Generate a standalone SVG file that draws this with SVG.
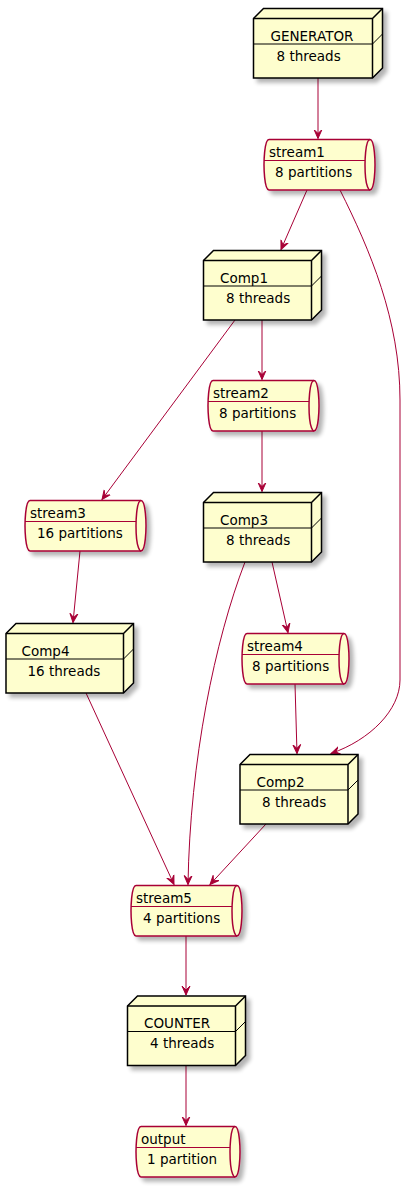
<svg xmlns="http://www.w3.org/2000/svg" width="413" height="1188" viewBox="0 0 413 1188">
<defs>
<filter id="sh" x="-20%" y="-20%" width="150%" height="150%">
<feGaussianBlur in="SourceAlpha" stdDeviation="2"/>
<feOffset dx="4" dy="4" result="b"/>
<feComponentTransfer><feFuncA type="linear" slope="0.3"/></feComponentTransfer>
<feMerge><feMergeNode/><feMergeNode in="SourceGraphic"/></feMerge>
</filter>
<marker id="ah" viewBox="0 0 10 10" refX="9" refY="5" markerWidth="10" markerHeight="10" markerUnits="userSpaceOnUse" orient="auto">
<path d="M0,1 L9,5 L0,9 L4,5 Z" fill="#A80036" stroke="#A80036" stroke-width="1"/>
</marker>
</defs>
<style>
.nb{fill:#FEFECE;stroke:#000000;stroke-width:1.5}
.nl{fill:none;stroke:#000000;stroke-width:1.5}
.nd{fill:none;stroke:#000000;stroke-width:1}
.cb{fill:#FEFECE;stroke:#A80036;stroke-width:1.5}
.cl{fill:none;stroke:#A80036;stroke-width:1.5}
.cd{fill:none;stroke:#A80036;stroke-width:1}
text{font-family:"DejaVu Sans",sans-serif;font-size:13.5px;fill:#000000}
.e{fill:none;stroke:#A80036;stroke-width:1;marker-end:url(#ah)}
</style>
<rect width="413" height="1188" fill="#FFFFFF"/>

<g id="connectors">
<path class="e" d="M318,78 L318,138.5"/>
<path class="e" d="M307,190 L281,249.5"/>
<path class="e" d="M340,190 C370,250 400,320 400,400 L400,680 C400,710 370,740 331,753.5"/>
<path class="e" d="M262,320 L262,379.5"/>
<path class="e" d="M235,320 L102,499.5"/>
<path class="e" d="M262,431 L262,491.5"/>
<path class="e" d="M80,551 L73,622.5"/>
<path class="e" d="M272,562 L288,632.5"/>
<path class="e" d="M245,562 C215,640 190,760 188,884.5"/>
<path class="e" d="M86,693 L174,884.5"/>
<path class="e" d="M295,684 L297,753.5"/>
<path class="e" d="M266,824 L210,884.5"/>
<path class="e" d="M186,936 L186,995"/>
<path class="e" d="M186,1066 L186,1125.5"/>
</g>

<g id="GENERATOR">
<path class="nb" filter="url(#sh)" d="M253.5,18.5 L263.5,8.5 L382.5,8.5 L382.5,68 L372.5,78 L253.5,78 Z"/>
<path class="nl" d="M253.5,18.5 L372.5,18.5 L382.5,8.5 M372.5,18.5 L372.5,78"/>
<path class="nd" d="M253.5,44 L372.5,44 L382.5,34"/>
<text x="270.5" y="40.5">GENERATOR</text>
<text x="276.5" y="60.5">8 threads</text>
</g>

<g id="stream1">
<path class="cb" filter="url(#sh)" d="M269,139.5 L370,139.5 C375,139.5 375,164.75 375,164.75 C375,164.75 375,190 370,190 L269,190 C264,190 264,164.75 264,164.75 C264,164.75 264,139.5 269,139.5 Z"/>
<path class="cl" d="M370,139.5 C365,139.5 365,164.75 365,164.75 C365,190 370,190 370,190"/>
<path class="cd" d="M264,160.5 L365,160.5"/>
<text x="269" y="156.5">stream1</text>
<text x="275" y="176.5">8 partitions</text>
</g>

<g id="Comp1">
<path class="nb" filter="url(#sh)" d="M203.5,260.5 L213.5,250.5 L321.5,250.5 L321.5,310 L311.5,320 L203.5,320 Z"/>
<path class="nl" d="M203.5,260.5 L311.5,260.5 L321.5,250.5 M311.5,260.5 L311.5,320"/>
<path class="nd" d="M203.5,286 L311.5,286 L321.5,276"/>
<text x="220" y="282.5">Comp1</text>
<text x="226" y="302.5">8 threads</text>
</g>

<g id="stream2">
<path class="cb" filter="url(#sh)" d="M213,380.5 L314,380.5 C319,380.5 319,405.75 319,405.75 C319,405.75 319,431 314,431 L213,431 C208,431 208,405.75 208,405.75 C208,405.75 208,380.5 213,380.5 Z"/>
<path class="cl" d="M314,380.5 C309,380.5 309,405.75 309,405.75 C309,431 314,431 314,431"/>
<path class="cd" d="M208,401.5 L309,401.5"/>
<text x="213" y="397.5">stream2</text>
<text x="219" y="417.5">8 partitions</text>
</g>

<g id="Comp3">
<path class="nb" filter="url(#sh)" d="M203.5,502.5 L213.5,492.5 L321.5,492.5 L321.5,552 L311.5,562 L203.5,562 Z"/>
<path class="nl" d="M203.5,502.5 L311.5,502.5 L321.5,492.5 M311.5,502.5 L311.5,562"/>
<path class="nd" d="M203.5,528 L311.5,528 L321.5,518"/>
<text x="220" y="524.5">Comp3</text>
<text x="226" y="544.5">8 threads</text>
</g>

<g id="stream3">
<path class="cb" filter="url(#sh)" d="M30,500.5 L141,500.5 C146,500.5 146,525.75 146,525.75 C146,525.75 146,551 141,551 L30,551 C25,551 25,525.75 25,525.75 C25,525.75 25,500.5 30,500.5 Z"/>
<path class="cl" d="M141,500.5 C136,500.5 136,525.75 136,525.75 C136,551 141,551 141,551"/>
<path class="cd" d="M25,521.5 L136,521.5"/>
<text x="30" y="517.5">stream3</text>
<text x="37" y="537.5">16 partitions</text>
</g>

<g id="Comp4">
<path class="nb" filter="url(#sh)" d="M6,633.5 L16,623.5 L133.5,623.5 L133.5,683 L123.5,693 L6,693 Z"/>
<path class="nl" d="M6,633.5 L123.5,633.5 L133.5,623.5 M123.5,633.5 L123.5,693"/>
<path class="nd" d="M6,659 L123.5,659 L133.5,649"/>
<text x="21.5" y="655.5">Comp4</text>
<text x="27.5" y="675.5">16 threads</text>
</g>

<g id="stream4">
<path class="cb" filter="url(#sh)" d="M247,633.5 L344,633.5 C349,633.5 349,658.75 349,658.75 C349,658.75 349,684 344,684 L247,684 C242,684 242,658.75 242,658.75 C242,658.75 242,633.5 247,633.5 Z"/>
<path class="cl" d="M344,633.5 C339,633.5 339,658.75 339,658.75 C339,684 344,684 344,684"/>
<path class="cd" d="M242,654.5 L339,654.5"/>
<text x="247" y="650.5">stream4</text>
<text x="252" y="670.5">8 partitions</text>
</g>

<g id="Comp2">
<path class="nb" filter="url(#sh)" d="M240,764.5 L250,754.5 L358,754.5 L358,814 L348,824 L240,824 Z"/>
<path class="nl" d="M240,764.5 L348,764.5 L358,754.5 M348,764.5 L348,824"/>
<path class="nd" d="M240,790 L348,790 L358,780"/>
<text x="256.5" y="786.5">Comp2</text>
<text x="262" y="806.5">8 threads</text>
</g>

<g id="stream5">
<path class="cb" filter="url(#sh)" d="M136,885.5 L237,885.5 C242,885.5 242,910.75 242,910.75 C242,910.75 242,936 237,936 L136,936 C131,936 131,910.75 131,910.75 C131,910.75 131,885.5 136,885.5 Z"/>
<path class="cl" d="M237,885.5 C232,885.5 232,910.75 232,910.75 C232,936 237,936 237,936"/>
<path class="cd" d="M131,906.5 L232,906.5"/>
<text x="136" y="902.5">stream5</text>
<text x="143" y="922.5">4 partitions</text>
</g>

<g id="COUNTER">
<path class="nb" filter="url(#sh)" d="M127.5,1006 L137.5,996 L245.5,996 L245.5,1055.5 L235.5,1065.5 L127.5,1065.5 Z"/>
<path class="nl" d="M127.5,1006 L235.5,1006 L245.5,996 M235.5,1006 L235.5,1065.5"/>
<path class="nd" d="M127.5,1031.5 L235.5,1031.5 L245.5,1021.5"/>
<text x="144" y="1028">COUNTER</text>
<text x="150" y="1048">4 threads</text>
</g>

<g id="output">
<path class="cb" filter="url(#sh)" d="M141,1126.5 L235,1126.5 C240,1126.5 240,1151.75 240,1151.75 C240,1151.75 240,1177 235,1177 L141,1177 C136,1177 136,1151.75 136,1151.75 C136,1151.75 136,1126.5 141,1126.5 Z"/>
<path class="cl" d="M235,1126.5 C230,1126.5 230,1151.75 230,1151.75 C230,1177 235,1177 235,1177"/>
<path class="cd" d="M136,1147.5 L230,1147.5"/>
<text x="141" y="1143.5">output</text>
<text x="147" y="1163.5">1 partition</text>
</g>
</svg>
